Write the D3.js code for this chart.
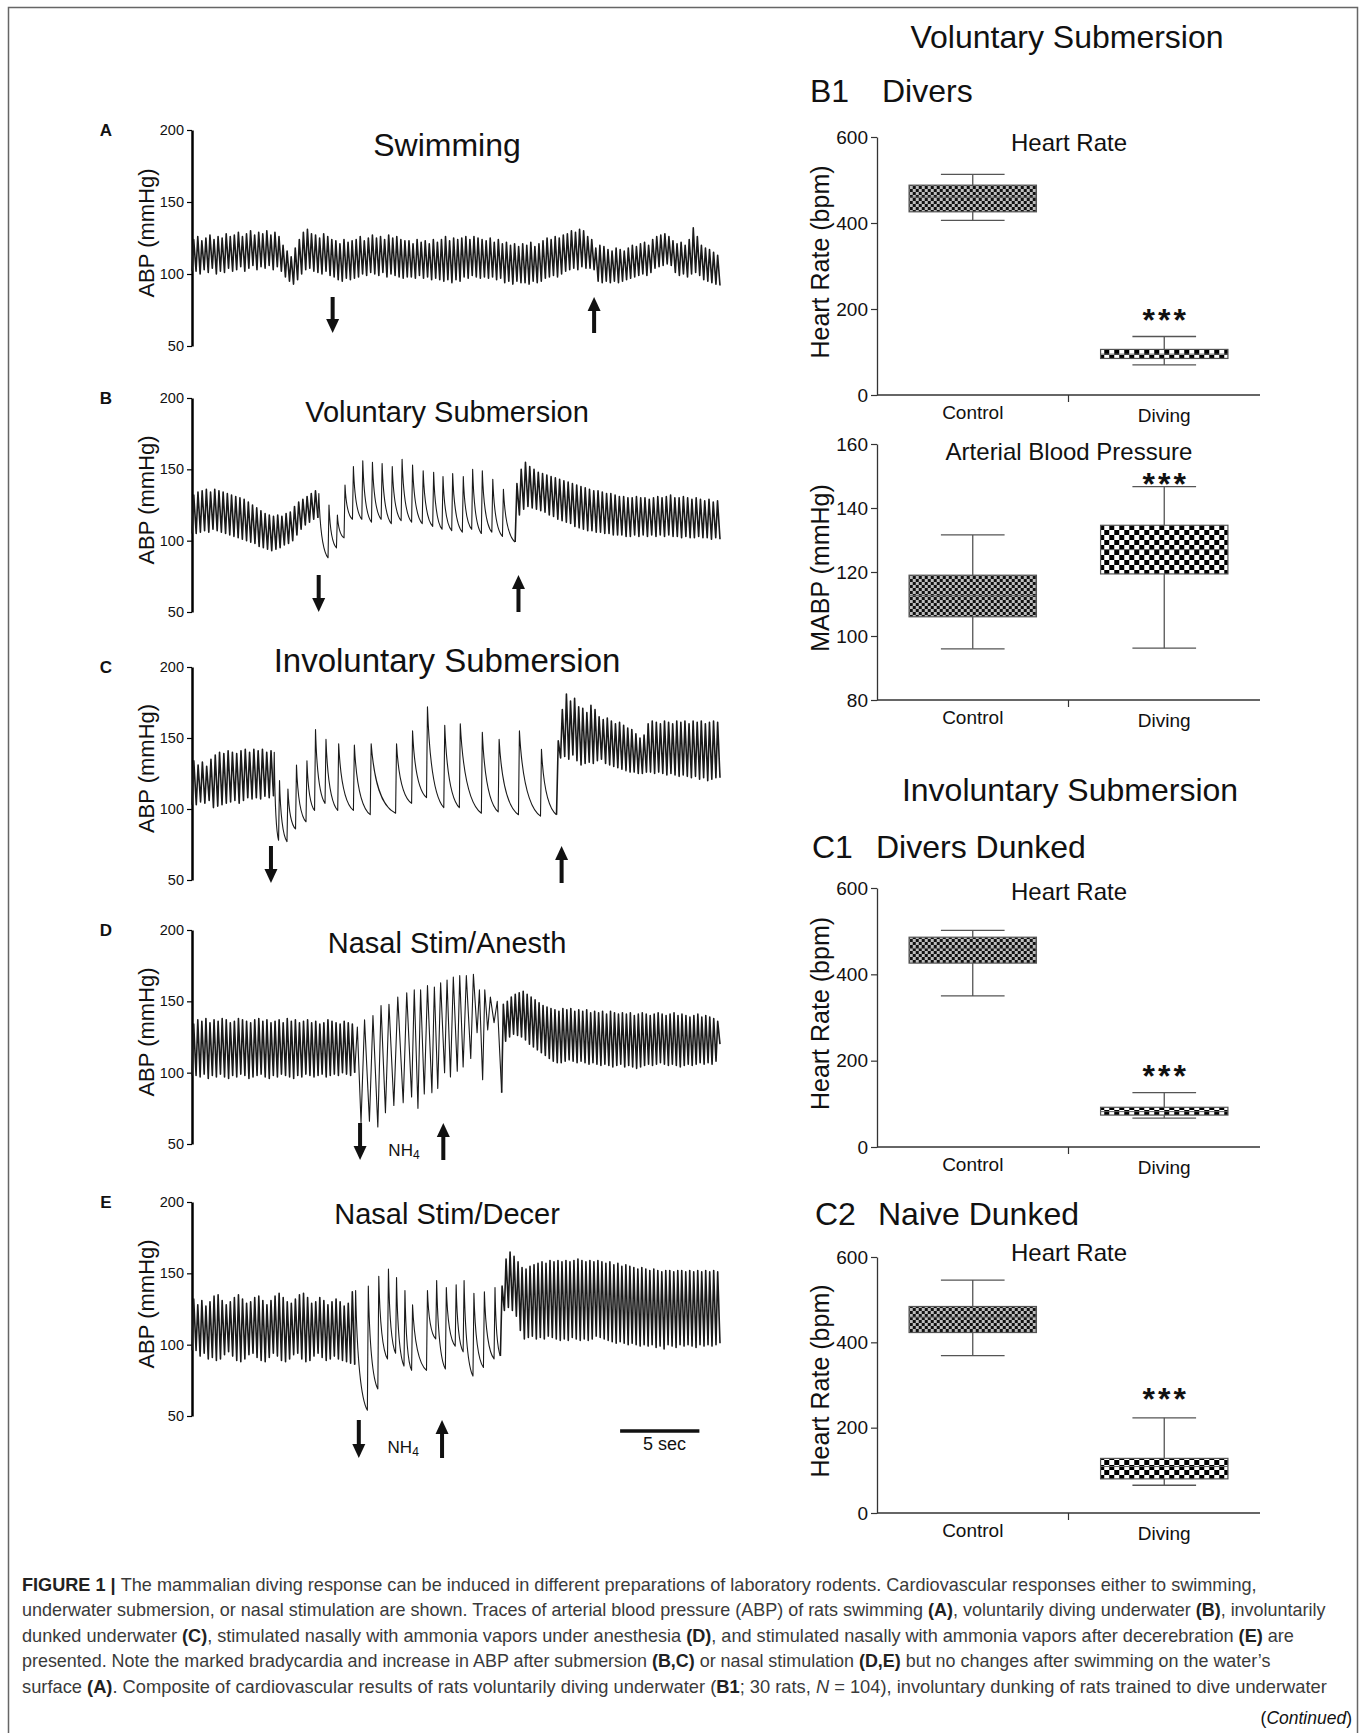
<!DOCTYPE html>
<html>
<head>
<meta charset="utf-8">
<title>Diving response</title>
<script src="https://cdn.jsdelivr.net/npm/d3@7/dist/d3.min.js"></script>
<style>
  body { margin: 0; background: #fff; }
  svg { display: block; }
  text { font-family: "Liberation Sans", Arial, Helvetica, sans-serif; fill: #111; }
</style>
</head>
<body>
<svg id="fig" width="1363" height="1733"></svg>
<script>
/* global d3 */

// ---------- ABP traces (mmHg), beat times in seconds ----------
var traceDomain = [0, 33.3]

// A  swimming
var sysA = [124, 126, 123, 125, 127, 124, 126, 125, 128, 126, 127, 129, 126, 128, 130, 127, 129, 128, 130, 127, 129, 126,
  120, 116, 112, 118, 124, 129, 131, 128, 127, 125, 128, 126, 124, 123, 121, 124, 122, 123,
  124, 126, 123, 125, 127, 125, 126, 124, 127, 125, 126, 124, 123, 123, 121, 124, 122, 123, 121, 124, 122,
  124, 126, 123, 125, 124, 125, 126, 124, 126, 125, 124, 123, 125, 122, 124, 121, 122, 120, 121, 119,
  121, 120, 122, 119, 121, 123, 125, 124, 126, 125, 127, 128, 130, 129, 131, 130, 126, 124, 118, 120, 119,
  117, 116, 118, 117, 116, 118, 120, 119, 121, 122, 120, 124, 126, 127, 128, 126, 123, 121, 122, 120,
  124, 132, 126, 120, 118, 117, 115, 113]
var diaA = [102, 100, 103, 101, 104, 100, 102, 101, 104, 102, 103, 105, 102, 104, 106, 103, 105, 104, 106, 103, 105, 102,
  98, 95, 93, 96, 100, 103, 104, 102, 101, 100, 102, 99, 98, 96, 95, 97, 96, 97,
  98, 100, 99, 101, 100, 99, 101, 98, 100, 99, 98, 97, 98, 98, 97, 99, 97, 98, 96, 97, 96,
  95, 96, 94, 96, 95, 98, 97, 99, 98, 97, 98, 97, 98, 96, 97, 94, 95, 93, 95, 94,
  94, 93, 95, 94, 95, 97, 98, 99, 98, 100, 102, 103, 104, 103, 105, 104, 104, 103, 95, 94, 95,
  94, 95, 94, 95, 96, 97, 98, 99, 100, 99, 101, 104, 105, 106, 107, 106, 101, 99, 100, 98,
  100, 101, 99, 96, 95, 94, 93, 92]
var arrowsA = [[8.87, 'down'], [25.36, 'up']]

// B  voluntary submersion
var sysB1 = [132, 134, 135, 136, 134, 136, 135, 134, 133, 132, 131, 130, 129, 127, 125,
  123, 121, 119, 118, 117, 118, 117, 119, 120, 124, 127, 129, 131, 133, 135]
var diaB1 = [105, 106, 107, 106, 108, 107, 106, 105, 104, 103, 102, 101, 100, 99, 98,
  96, 95, 94, 93, 94, 95, 97, 98, 100, 104, 108, 111, 113, 115, 116]
var slowB = [[7.94, 133, 88], [8.58, 125, 95], [9.11, 118, 102], [9.59, 139, 115], [10.12, 152, 115],
  [10.71, 156, 113], [11.32, 155, 115], [11.93, 154, 112], [12.57, 152, 114], [13.19, 157, 113],
  [13.85, 153, 112], [14.52, 149, 110], [15.18, 148, 108], [15.77, 145, 107], [16.38, 147, 106],
  [17.05, 145, 108], [17.64, 150, 105], [18.25, 149, 106], [18.91, 143, 103], [19.58, 136, 99]]
var sysB2 = [140, 150, 155, 152, 150, 148, 147, 146, 145, 144, 143, 142, 141, 140, 139, 138,
  137, 136, 135, 135, 134, 133, 133, 132, 131, 131, 130, 130, 131, 130, 130, 129,
  130, 131, 130, 131, 132, 130, 130, 131, 130, 129, 130, 129, 128, 129, 127, 128]
var diaB2 = [118, 122, 124, 123, 122, 121, 120, 118, 117, 115, 114, 113, 112, 110, 109, 108,
  107, 107, 106, 106, 105, 105, 104, 104, 104, 103, 103, 104, 103, 104, 103, 104,
  103, 104, 103, 104, 103, 103, 102, 103, 102, 102, 103, 102, 102, 101, 102, 101]
var arrowsB = [[7.99, 'down'], [20.59, 'up']]

// C  involuntary submersion
var sysC1 = [134, 131, 133, 130, 135, 138, 140, 139, 141, 140, 139, 141, 142, 140, 142, 141, 142, 140, 141]
var diaC1 = [103, 105, 104, 106, 101, 102, 103, 104, 105, 106, 104, 106, 108, 107, 108, 107, 109, 108, 109]
var slowC = [[5.14, 140, 78], [5.46, 120, 77], [5.99, 114, 86], [6.53, 131, 91], [7.19, 134, 99],
  [7.73, 156, 104], [8.39, 149, 99], [9.19, 146, 99], [10.18, 145, 96], [11.24, 146, 97],
  [12.84, 146, 104], [13.85, 155, 108], [14.79, 172, 101], [15.88, 159, 101], [16.86, 160, 97],
  [18.25, 154, 98], [19.31, 149, 96], [20.59, 155, 95], [21.98, 142, 96]]
var sysC2 = [148, 170, 181, 176, 178, 172, 171, 168, 173, 170, 165, 163, 164, 162, 160, 161, 159, 157, 156, 153,
  150, 152, 160, 162, 161, 160, 162, 161, 160, 162, 161, 162, 160, 162, 161, 162, 160, 161, 162, 161]
var diaC2 = [136, 137, 135, 138, 134, 131, 132, 133, 132, 134, 135, 132, 131, 130, 129, 128, 127, 126, 126, 125,
  125, 126, 126, 125, 126, 125, 124, 125, 124, 123, 124, 123, 122, 123, 121, 122, 120, 121, 122, 122]
var arrowsC = [[4.98, 'down'], [23.31, 'up']]

// D  nasal stimulation, anesthetised
var sysD1 = [134, 137, 136, 138, 135, 137, 136, 138, 137, 135, 136, 138, 137, 136, 135, 137, 138, 136, 137, 135,
  136, 137, 135, 138, 136, 137, 135, 136, 137, 135, 136, 134, 135, 137, 136, 135, 134, 136, 135, 134]
var diaD1 = [98, 97, 99, 96, 98, 97, 99, 97, 96, 98, 97, 99, 98, 96, 97, 98, 99, 97, 96, 98,
  97, 99, 98, 97, 96, 98, 97, 99, 98, 97, 98, 99, 97, 98, 99, 98, 100, 99, 98, 100]
var swingD = [[10.26, 132, 65], [10.66, 137, 66], [11.19, 140, 62], [11.72, 147, 72], [12.20, 148, 77],
  [12.73, 153, 79], [13.32, 156, 83], [13.85, 158, 75], [14.25, 158, 85], [14.65, 161, 86],
  [15.13, 160, 89], [15.50, 163, 100], [15.93, 165, 97], [16.30, 167, 101], [16.73, 168, 104],
  [17.10, 168, 110], [17.58, 169, 128], [17.98, 158, 95], [18.33, 158, 130], [18.65, 153, 135], [19.05, 150, 86]]
var sysD2 = [148, 150, 153, 155, 156, 157, 155, 153, 151, 149, 147, 146, 145, 144, 143, 145, 144, 145, 143, 144,
  143, 144, 142, 143, 142, 143, 141, 143, 142, 141, 142, 141, 142, 140, 141, 142, 141, 140, 141, 142,
  141, 140, 141, 142, 140, 141, 140, 139, 140, 141, 139, 140, 139, 138, 136]
var diaD2 = [122, 125, 127, 126, 125, 123, 120, 118, 116, 114, 112, 110, 108, 107, 107, 108, 109, 108, 107, 108,
  107, 106, 107, 106, 105, 106, 105, 104, 105, 106, 104, 105, 104, 103, 104, 105, 106, 105, 106, 107,
  106, 105, 106, 105, 104, 105, 106, 105, 106, 107, 106, 107, 106, 108, 120]
var arrowsD = [[10.6, 'down'], [15.85, 'up']]

// E  nasal stimulation, decerebrate
var sysE1 = [132, 128, 131, 127, 130, 134, 135, 131, 128, 130, 133, 135, 132, 129, 130, 133, 134, 131, 128, 131,
  134, 136, 133, 130, 129, 132, 135, 136, 133, 129, 130, 133, 131, 128, 130, 132, 130, 127, 129, 137]
var diaE1 = [96, 92, 94, 90, 91, 89, 90, 93, 95, 92, 89, 88, 90, 93, 94, 91, 89, 88, 91, 94,
  92, 89, 88, 90, 93, 94, 90, 88, 89, 92, 94, 91, 89, 90, 92, 90, 89, 88, 87, 86]
var slowE = [[10.26, 138, 54], [11.06, 141, 69], [11.72, 148, 90], [12.33, 153, 94], [12.84, 147, 85],
  [13.37, 138, 82], [13.85, 128, 82], [14.79, 138, 104], [15.37, 145, 83], [15.98, 140, 99],
  [16.60, 142, 95], [17.10, 145, 78], [17.72, 136, 84], [18.38, 137, 90], [19.05, 140, 92]]
var sysE2 = [141, 160, 165, 162, 158, 154, 153, 155, 156, 157, 158, 157, 159, 158, 159, 158, 159, 158, 159, 160,
  159, 158, 159, 158, 159, 158, 157, 158, 156, 157, 155, 156, 155, 154, 153, 154, 153, 152, 153, 152,
  151, 152, 152, 151, 152, 152, 151, 152, 151, 152, 151, 152, 151, 152, 151]
var diaE2 = [124, 126, 124, 120, 110, 104, 105, 106, 104, 105, 104, 106, 105, 104, 103, 104, 103, 105, 104, 103,
  104, 103, 104, 106, 105, 104, 103, 102, 101, 102, 101, 100, 101, 100, 99, 100, 99, 100, 98, 99,
  97, 100, 99, 98, 100, 99, 100, 99, 98, 100, 99, 100, 99, 100, 101]
var arrowsE = [[10.52, 'down'], [15.77, 'up']]
var scaleBarSec = [27, 32]

var abpTicks = [50, 100, 150, 200]

// ---------- box plots: [min, q1, median, q3, max] ----------
var groups = ['Control', 'Diving']
var hrB1 = [[406, 426, 460, 488, 513], [70, 85, 95, 106, 136]]
var mabpB1 = [[96, 106, 112.6, 119, 131.6], [96.2, 119.4, 127, 134.6, 146.7]]
var hrC1 = [[350, 426, 460, 486, 502], [67, 74, 82, 92, 126]]
var hrC2 = [[369, 423, 459, 484, 546], [65, 80, 109, 128, 223]]
var hrTicks = [0, 200, 400, 600]
var mabpTicks = [80, 100, 120, 140, 160]

var svg = d3.select('#fig')

// frame
svg.append('path')
    .attr('d', 'M8.5,1733V7.5H1357.5V1733')
    .attr('fill', 'none')
    .attr('stroke', '#666')
    .attr('stroke-width', 1.5)

// fills for the boxes
var defs = svg.append('defs')
var fine = defs.append('pattern').attr('id', 'pFine')
    .attr('patternUnits', 'userSpaceOnUse').attr('width', 6).attr('height', 6)
fine.append('rect').attr('width', 6).attr('height', 6).attr('fill', '#bdbdbd')
fine.append('rect').attr('width', 3).attr('height', 3).attr('fill', '#111')
fine.append('rect').attr('x', 3).attr('y', 3).attr('width', 3).attr('height', 3).attr('fill', '#111')
var coarse = defs.append('pattern').attr('id', 'pCoarse')
    .attr('patternUnits', 'userSpaceOnUse').attr('width', 10).attr('height', 10)
coarse.append('rect').attr('width', 10).attr('height', 10).attr('fill', '#fff')
coarse.append('rect').attr('width', 5).attr('height', 5).attr('fill', '#000')
coarse.append('rect').attr('x', 5).attr('y', 5).attr('width', 5).attr('height', 5).attr('fill', '#000')

/*
    --------------------------------------
    Left column: pressure traces
*/
function beatsOf (segs) {
  var out = []
  segs.forEach(function (s, k) {
    var next = segs[k + 1]
    var tEnd = next ? (next.sys ? next.t0 : next.beats[0][0]) : traceDomain[1]
    if (s.sys) {
      var n = Math.min(s.sys.length, s.dia.length)
      var step = (tEnd - s.t0) / n
      for (var i = 0; i < n; i++) out.push({t: s.t0 + i * step, sys: s.sys[i], dia: s.dia[i], kind: 'zig', seg: k})
    } else {
      s.beats.forEach(function (b) { out.push({t: b[0], sys: b[1], dia: b[2], kind: s.kind, seg: k}) })
    }
  })
  out.forEach(function (b, i) { b.t1 = out[i + 1] ? out[i + 1].t : traceDomain[1] })
  return out
}

function tracePath (beats, startDia, x, y) {
  var p = d3.path()
  p.moveTo(x(beats[0].t), y(startDia))
  beats.forEach(function (b) {
    var dt = b.t1 - b.t
    if (b.kind === 'saw') {
      var tp = b.t + Math.min(0.06, dt * 0.15)
      var r = b.t1 - tp
      var amp = b.sys - b.dia
      p.lineTo(x(tp), y(b.sys))
      p.bezierCurveTo(x(tp + r * 0.12), y(b.sys - amp * 0.55), x(tp + r * 0.4), y(b.dia + amp * 0.1), x(b.t1), y(b.dia))
    } else {
      p.lineTo(x(b.t + dt * 0.42), y(b.sys))
      p.lineTo(x(b.t1), y(b.dia))
    }
  })
  return p.toString()
}

function arrow (g, cx, yTop, yBot, dir) {
  var head = 14
  var hw = 6.5
  if (dir === 'down') {
    g.append('rect').attr('x', cx - 2).attr('y', yTop).attr('width', 4).attr('height', yBot - yTop - head + 1).attr('fill', '#111')
    g.append('path').attr('d', `M${cx - hw},${yBot - head}L${cx + hw},${yBot - head}L${cx},${yBot}Z`).attr('fill', '#111')
  } else {
    g.append('path').attr('d', `M${cx - hw},${yTop + head}L${cx + hw},${yTop + head}L${cx},${yTop}Z`).attr('fill', '#111')
    g.append('rect').attr('x', cx - 2).attr('y', yTop + head - 1).attr('width', 4).attr('height', yBot - yTop - head + 1).attr('fill', '#111')
  }
}

var leftPanels = [
  {key: 'A', title: 'Swimming', titleSize: 32, top: 130, bottom: 346, titleY: 156,
    segs: [{t0: 0, sys: sysA, dia: diaA}], arrows: arrowsA, arrowY: [297, 333]},
  {key: 'B', title: 'Voluntary Submersion', titleSize: 29, top: 398, bottom: 612, titleY: 422,
    segs: [{t0: 0, sys: sysB1, dia: diaB1}, {kind: 'saw', beats: slowB}, {t0: 20.38, sys: sysB2, dia: diaB2}],
    arrows: arrowsB, arrowY: [575, 612]},
  {key: 'C', title: 'Involuntary Submersion', titleSize: 33, top: 667, bottom: 880, titleY: 672,
    segs: [{t0: 0, sys: sysC1, dia: diaC1}, {kind: 'saw', beats: slowC}, {t0: 22.99, sys: sysC2, dia: diaC2}],
    arrows: arrowsC, arrowY: [846, 883]},
  {key: 'D', title: 'Nasal Stim/Anesth', titleSize: 29, top: 930, bottom: 1144, titleY: 953,
    segs: [{t0: 0, sys: sysD1, dia: diaD1}, {kind: 'zig', beats: swingD}, {t0: 19.53, sys: sysD2, dia: diaD2}],
    arrows: arrowsD, arrowY: [1123, 1160], nh4: [13.37, 1160]},
  {key: 'E', title: 'Nasal Stim/Decer', titleSize: 29, top: 1202, bottom: 1416, titleY: 1224,
    segs: [{t0: 0, sys: sysE1, dia: diaE1}, {kind: 'saw', beats: slowE}, {t0: 19.45, sys: sysE2, dia: diaE2}],
    arrows: arrowsE, arrowY: [1420, 1458], nh4: [13.32, 1457], bar: true}
]

var xT = d3.scaleLinear().domain(traceDomain).range([192, 720])

leftPanels.forEach(function (pn) {
  var y = d3.scaleLinear().domain([50, 200]).range([pn.bottom, pn.top])
  var g = svg.append('g').attr('class', 'trace-panel')

  g.append('text').attr('x', 106).attr('y', pn.top + 6)
      .attr('text-anchor', 'middle').attr('font-size', 17).attr('font-weight', 'bold')
      .text(pn.key)

  var ax = g.append('g').attr('transform', 'translate(192,0)')
      .call(d3.axisLeft(y).tickValues(abpTicks).tickSize(5).tickSizeOuter(0).tickPadding(3))
  ax.attr('font-size', 14.5).attr('font-family', null)
  ax.select('.domain').attr('stroke', '#000').attr('stroke-width', 2.5)
  ax.selectAll('.tick line').attr('stroke', '#000').attr('stroke-width', 1.2)
  ax.selectAll('.tick text').attr('fill', '#111')

  g.append('text')
      .attr('transform', `translate(154,${(pn.top + pn.bottom) / 2 - 5}) rotate(-90)`)
      .attr('text-anchor', 'middle').attr('font-size', 22)
      .text('ABP (mmHg)')

  g.append('text').attr('x', 447).attr('y', pn.titleY)
      .attr('text-anchor', 'middle').attr('font-size', pn.titleSize)
      .text(pn.title)

  // one path per run of beats; steady runs drawn a little heavier
  var beats = beatsOf(pn.segs)
  d3.groups(beats, b => b.seg).forEach(function (grp) {
    var k = grp[0]
    var bs = grp[1]
    var idx = beats.indexOf(bs[0])
    var startDia = idx > 0 ? beats[idx - 1].dia : bs[0].dia
    var steady = !!pn.segs[k].sys
    g.append('path')
        .attr('d', tracePath(bs, startDia, xT, y))
        .attr('fill', 'none')
        .attr('stroke', '#1a1a1a')
        .attr('stroke-width', steady ? 1.6 : 1.1)
        .attr('stroke-linejoin', 'round')
  })

  pn.arrows.forEach(function (a) { arrow(g, xT(a[0]), pn.arrowY[0], pn.arrowY[1], a[1]) })

  if (pn.nh4) {
    var t = g.append('text').attr('x', xT(pn.nh4[0])).attr('y', pn.nh4[1] - 4)
        .attr('text-anchor', 'middle').attr('font-size', 17)
    t.append('tspan').text('NH')
    t.append('tspan').attr('font-size', 12).attr('dy', 3).text('4')
  }
  if (pn.bar) {
    g.append('line')
        .attr('x1', xT(scaleBarSec[0])).attr('x2', xT(scaleBarSec[1]))
        .attr('y1', 1431).attr('y2', 1431)
        .attr('stroke', '#111').attr('stroke-width', 3.5)
    g.append('text').attr('x', xT((scaleBarSec[0] + scaleBarSec[1]) / 2 + 0.3)).attr('y', 1450)
        .attr('text-anchor', 'middle').attr('font-size', 18)
        .text('5 sec')
  }
})

/*
    --------------------------------------
    Right column: box plots
*/
function heading (x, y, big, small, gap) {
  var t = svg.append('text').attr('x', x).attr('y', y).attr('font-size', 32)
  t.append('tspan').text(big)
  t.append('tspan').attr('x', x + gap).text(small)
}

svg.append('text').attr('x', 1067).attr('y', 48).attr('text-anchor', 'middle')
    .attr('font-size', 32).text('Voluntary Submersion')
heading(810, 102, 'B1', 'Divers', 72)
svg.append('text').attr('x', 1070).attr('y', 801).attr('text-anchor', 'middle')
    .attr('font-size', 32).text('Involuntary Submersion')
heading(812, 858, 'C1', 'Divers Dunked', 64)
heading(815, 1225, 'C2', 'Naive Dunked', 63)

function boxPanel (o) {
  var x = d3.scaleBand().domain(groups).range([877, 1260])
  var y = d3.scaleLinear().domain(o.domain).range([o.bottom, o.top])
  var bw = x.bandwidth()
  var boxW = bw * 0.665
  var g = svg.append('g').attr('class', 'box-panel')

  var ax = g.append('g').attr('transform', 'translate(877,0)')
      .call(d3.axisLeft(y).tickValues(o.ticks).tickSize(6).tickSizeOuter(0).tickPadding(3))
  ax.attr('font-size', 19).attr('font-family', null)
  ax.select('.domain').attr('stroke', '#333').attr('stroke-width', 1.3)
  ax.selectAll('.tick line').attr('stroke', '#333').attr('stroke-width', 1.2)
  ax.selectAll('.tick text').attr('fill', '#111')

  g.append('line').attr('x1', 877).attr('x2', 1260).attr('y1', o.bottom).attr('y2', o.bottom)
      .attr('stroke', '#333').attr('stroke-width', 1.3)
  g.append('line').attr('x1', x(groups[1])).attr('x2', x(groups[1]))
      .attr('y1', o.bottom).attr('y2', o.bottom + 7)
      .attr('stroke', '#333').attr('stroke-width', 1.2)

  g.selectAll('text.cat').data(groups).enter().append('text')
      .attr('class', 'cat')
      .attr('x', d => x(d) + bw / 2)
      .attr('y', (d, i) => o.bottom + 24 + i * 3)
      .attr('text-anchor', 'middle').attr('font-size', 19)
      .text(d => d)

  g.append('text')
      .attr('transform', `translate(829,${(o.top + o.bottom) / 2 - 4}) rotate(-90)`)
      .attr('text-anchor', 'middle').attr('font-size', 25)
      .text(o.ylabel)

  g.append('text').attr('x', 1069).attr('y', o.titleY)
      .attr('text-anchor', 'middle').attr('font-size', 24)
      .text(o.title)

  var boxes = g.selectAll('g.box').data(o.data).enter().append('g').attr('class', 'box')
      .attr('transform', (d, i) => `translate(${x(groups[i]) + bw / 2},0)`)

  boxes.append('line').attr('y1', d => y(d[0])).attr('y2', d => y(d[4]))
      .attr('stroke', '#555').attr('stroke-width', 1.3)
  boxes.append('line').attr('x1', -boxW / 4).attr('x2', boxW / 4)
      .attr('y1', d => y(d[0])).attr('y2', d => y(d[0]))
      .attr('stroke', '#555').attr('stroke-width', 1.3)
  boxes.append('line').attr('x1', -boxW / 4).attr('x2', boxW / 4)
      .attr('y1', d => y(d[4])).attr('y2', d => y(d[4]))
      .attr('stroke', '#555').attr('stroke-width', 1.3)
  boxes.append('rect')
      .attr('x', -boxW / 2).attr('width', boxW)
      .attr('y', d => y(d[3])).attr('height', d => y(d[1]) - y(d[3]))
      .attr('fill', (d, i) => i === 0 ? 'url(#pFine)' : 'url(#pCoarse)')
      .attr('stroke', '#555').attr('stroke-width', 1.2)
  boxes.append('line').attr('x1', -boxW / 2).attr('x2', boxW / 2)
      .attr('y1', d => y(d[2])).attr('y2', d => y(d[2]))
      .attr('stroke', '#666').attr('stroke-width', 1)

  g.append('text')
      .attr('x', x(groups[1]) + bw / 2 + 1.5)
      .attr('y', y(o.data[1][4]) - o.starGap)
      .attr('text-anchor', 'middle').attr('font-size', 32).attr('font-weight', 'bold')
      .attr('letter-spacing', 3)
      .text('***')
}

boxPanel({data: hrB1, domain: [0, 600], ticks: hrTicks, top: 137, bottom: 395,
  title: 'Heart Rate', titleY: 151, ylabel: 'Heart Rate (bpm)', starGap: 6})
boxPanel({data: mabpB1, domain: [80, 160], ticks: mabpTicks, top: 444, bottom: 700,
  title: 'Arterial Blood Pressure', titleY: 460, ylabel: 'MABP (mmHg)', starGap: -8})
boxPanel({data: hrC1, domain: [0, 600], ticks: hrTicks, top: 888, bottom: 1147,
  title: 'Heart Rate', titleY: 900, ylabel: 'Heart Rate (bpm)', starGap: 6})
boxPanel({data: hrC2, domain: [0, 600], ticks: hrTicks, top: 1257, bottom: 1513,
  title: 'Heart Rate', titleY: 1261, ylabel: 'Heart Rate (bpm)', starGap: 8})

/*
    --------------------------------------
    Caption
*/
var captionLines = [
  [['FIGURE 1 | ', 'b'], ['The mammalian diving response can be induced in different preparations of laboratory rodents. Cardiovascular responses either to swimming,']],
  [['underwater submersion, or nasal stimulation are shown. Traces of arterial blood pressure (ABP) of rats swimming '], ['(A)', 'b'], [', voluntarily diving underwater '], ['(B)', 'b'], [', involuntarily']],
  [['dunked underwater '], ['(C)', 'b'], [', stimulated nasally with ammonia vapors under anesthesia '], ['(D)', 'b'], [', and stimulated nasally with ammonia vapors after decerebration '], ['(E)', 'b'], [' are']],
  [['presented. Note the marked bradycardia and increase in ABP after submersion '], ['(B,C)', 'b'], [' or nasal stimulation '], ['(D,E)', 'b'], [' but no changes after swimming on the water\u2019s']],
  [['surface '], ['(A)', 'b'], ['. Composite of cardiovascular results of rats voluntarily diving underwater ('], ['B1', 'b'], ['; 30 rats, '], ['N', 'i'], [' = 104), involuntary dunking of rats trained to dive underwater']]
]
var captionEnds = [1258, 1326, 1295, 1271, 1328]
var captionBase = [1591, 1616, 1642, 1667, 1693]

captionLines.forEach(function (parts, k) {
  var t = svg.append('text').attr('x', 0).attr('y', 0)
      .attr('font-family', '"Liberation Sans Narrow", "Arial Narrow", "Liberation Sans", Arial, sans-serif')
      .attr('font-size', 17.5)
  parts.forEach(function (p) {
    var s = t.append('tspan').text(p[0]).attr('fill', p[1] === 'b' ? '#222' : '#3a3a3a')
    if (p[1] === 'b') s.attr('font-weight', 'bold')
    if (p[1] === 'i') s.attr('font-style', 'italic')
  })
  var w = t.node().getComputedTextLength()
  var x0 = 22
  t.attr('transform', `translate(${x0},${captionBase[k]}) scale(${(captionEnds[k] - x0) / w},1)`)
})

var cont = svg.append('text').attr('x', 1352).attr('y', 1724)
    .attr('text-anchor', 'end').attr('font-size', 17.5)
    .attr('font-family', '"Liberation Sans Narrow", "Arial Narrow", "Liberation Sans", Arial, sans-serif')
    .attr('fill', '#3a3a3a')
cont.append('tspan').text('(')
cont.append('tspan').attr('font-style', 'italic').text('Continued')
cont.append('tspan').text(')')
</script>
</body>
</html>
